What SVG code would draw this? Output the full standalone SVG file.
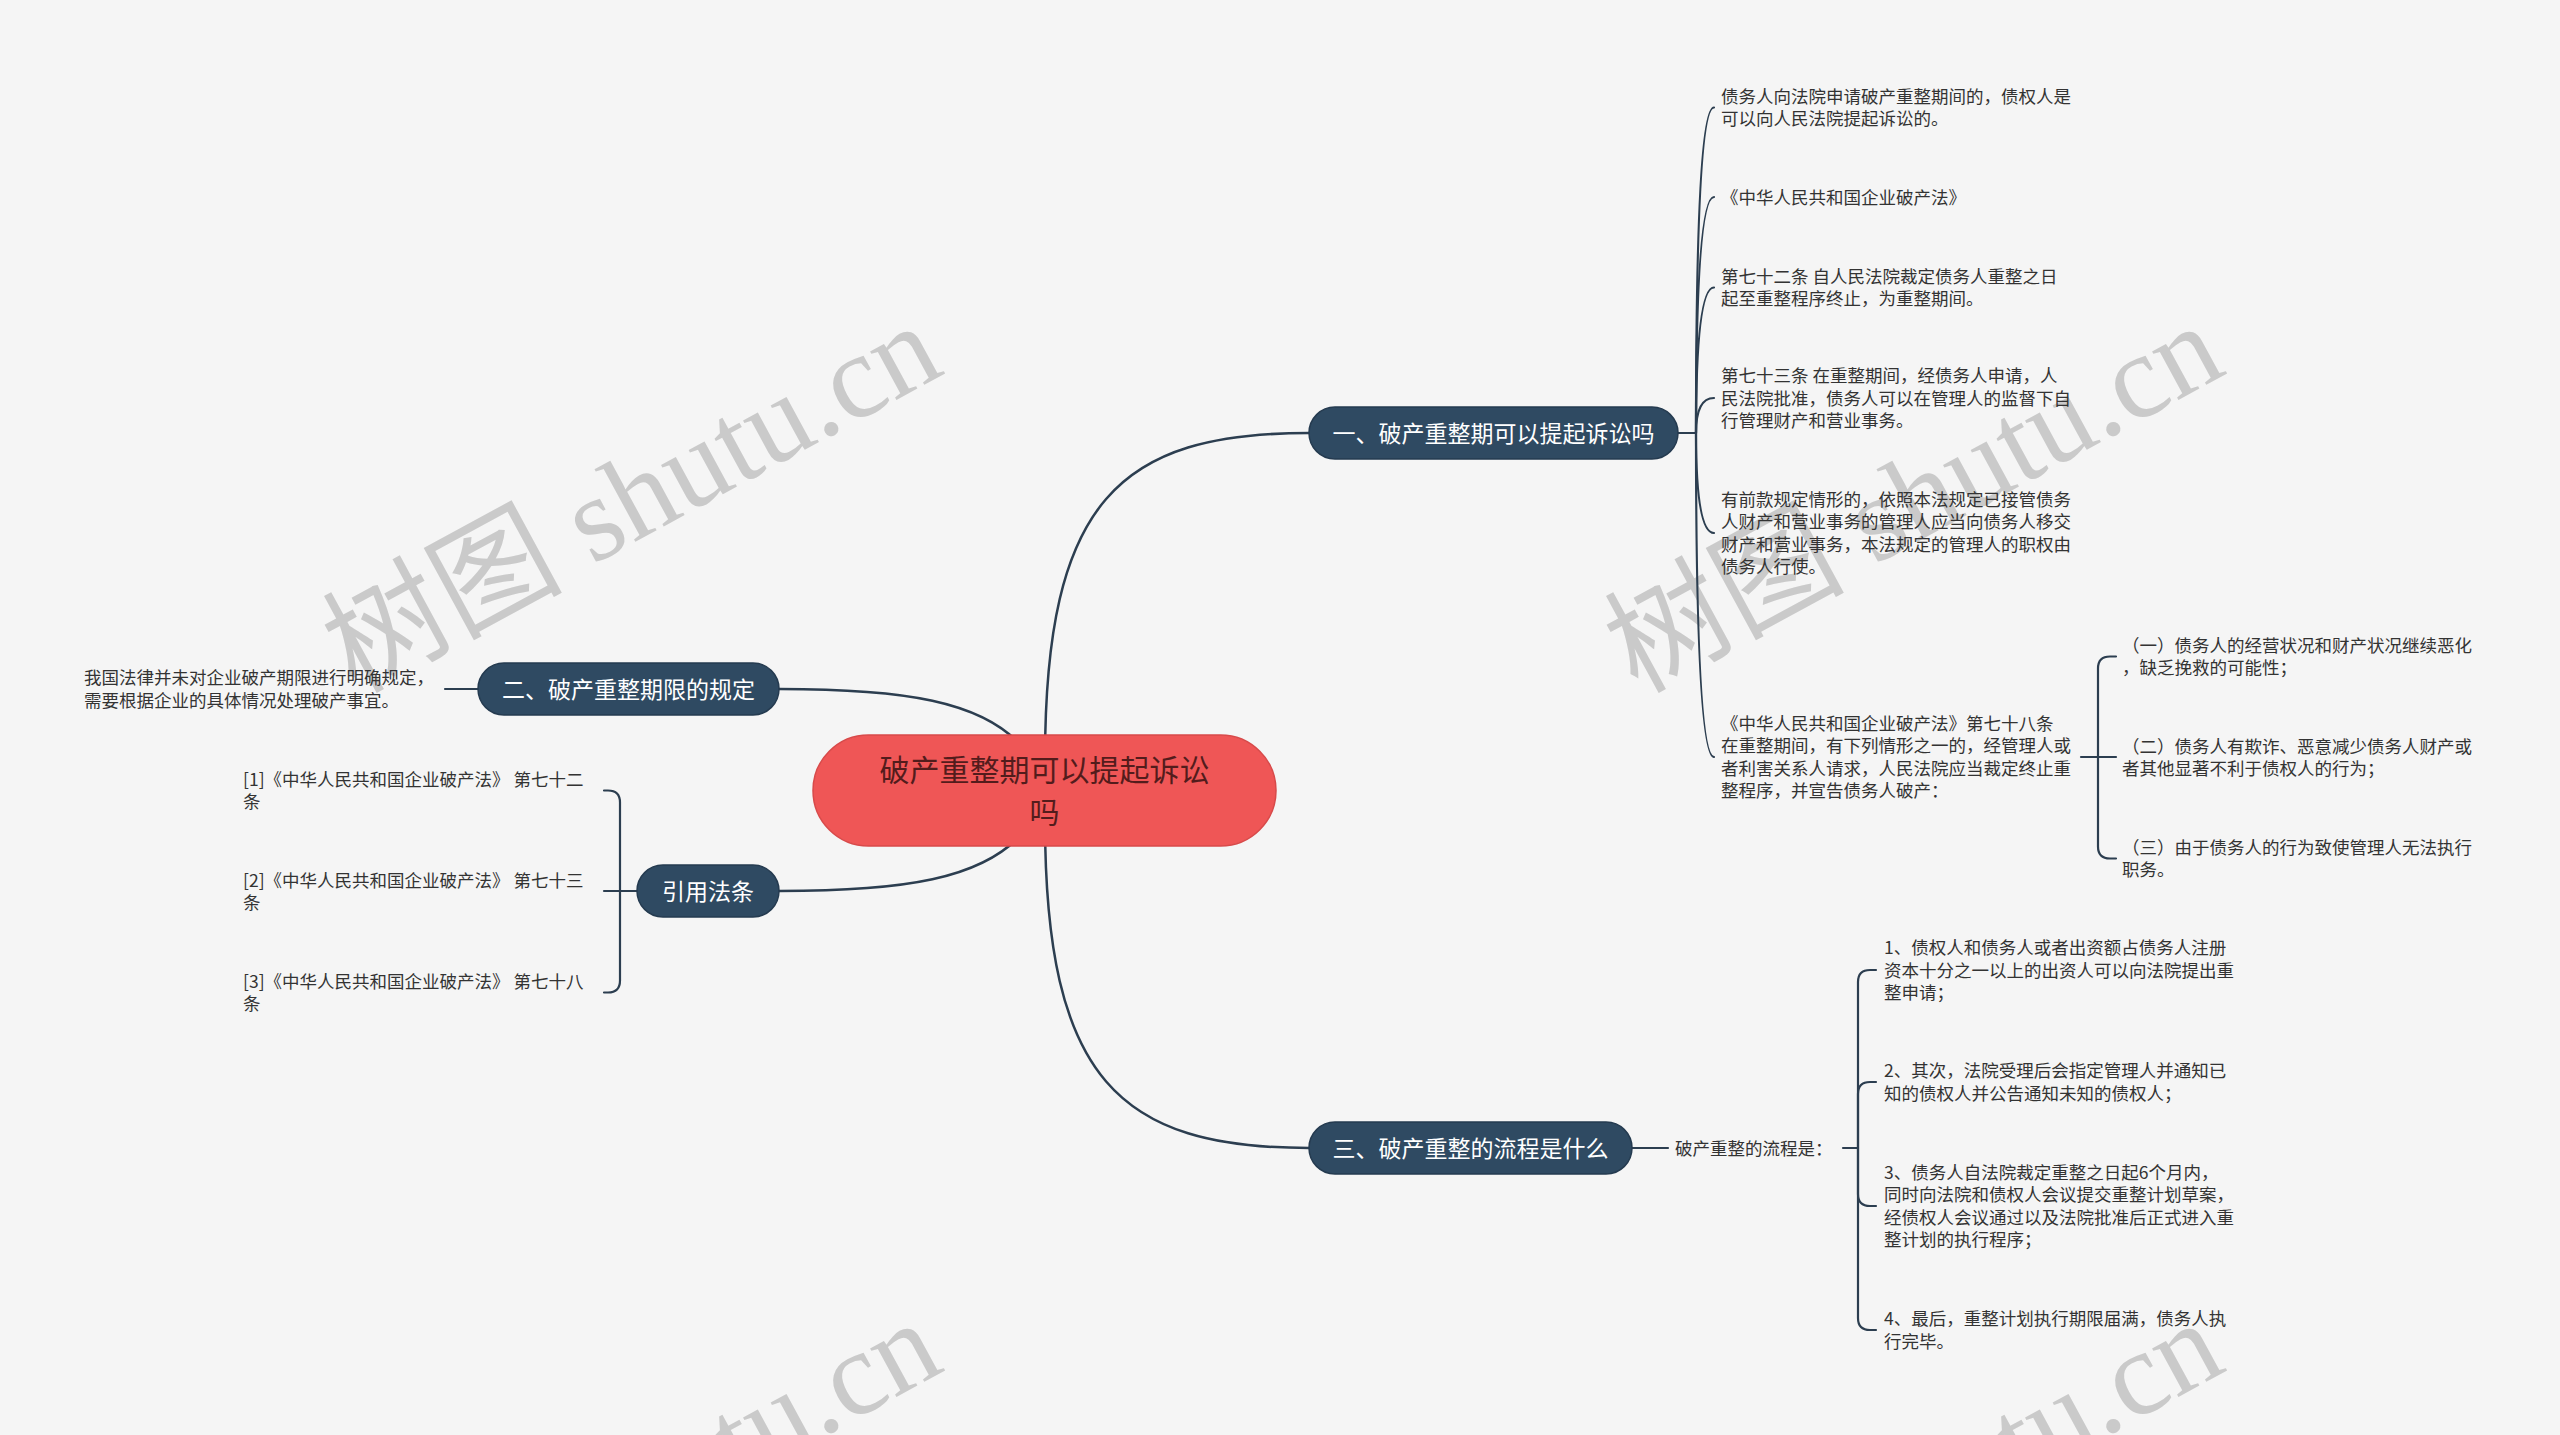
<svg xmlns="http://www.w3.org/2000/svg" width="2560" height="1435" viewBox="0 0 2560 1435">
<style>
.wm{font-family:"Liberation Serif","Noto Sans CJK SC",serif;font-size:120px;fill:#cacaca}
.wmc{font-family:"Noto Sans CJK SC",sans-serif}
.ln{fill:none;stroke:#2c3e50;stroke-width:2.5;stroke-linecap:round}
.br{fill:none;stroke:#2c3e50;stroke-width:2.2;stroke-linecap:round}
.box{fill:#2f4a62;stroke:#253b50;stroke-width:1.5}
.bt{font-family:"Noto Sans CJK SC",sans-serif;font-size:23px;fill:#ffffff;text-anchor:middle}
.ct{font-family:"Noto Sans CJK SC",sans-serif;font-size:17.5px;fill:#333333}
.main{fill:#ef5656;stroke:#d84a4a;stroke-width:1.5}
.mt{font-family:"Noto Sans CJK SC",sans-serif;font-size:30px;fill:#531c1c;text-anchor:middle}
</style>
<rect x="0" y="0" width="2560" height="1435" fill="#f5f5f5"/>
<g id="watermarks">
<text class="wm" transform="translate(355 694) rotate(-28.5)"><tspan class="wmc">树图</tspan> shutu.cn</text>
<text class="wm" transform="translate(1637 694) rotate(-28.5)"><tspan class="wmc">树图</tspan> shutu.cn</text>
<text class="wm" transform="translate(355 1691) rotate(-28.5)"><tspan class="wmc">树图</tspan> shutu.cn</text>
<text class="wm" transform="translate(1637 1691) rotate(-28.5)"><tspan class="wmc">树图</tspan> shutu.cn</text>
</g>
<g id="connectors">
<path class="ln" d="M1045 760 C1045 500 1120 433 1309 433"/>
<path class="ln" d="M1045 820 C1045 1080 1120 1148 1309 1148"/>
<path class="ln" d="M779 689 C900 689 985 700 1025 750"/>
<path class="ln" d="M779 891 C900 891 985 880 1025 830"/>
<path class="br" d="M1678 433 H1696"/>
<path class="br" d="M1696 433 Q1696 107.5 1714 107.5"/>
<path class="br" d="M1696 433 Q1696 197 1714 197"/>
<path class="br" d="M1696 433 Q1696 287.5 1714 287.5"/>
<path class="br" d="M1696 433 Q1696 398 1714 398"/>
<path class="br" d="M1696 433 Q1696 533 1714 533"/>
<path class="br" d="M1696 433 Q1696 757 1714 757"/>
<path class="br" d="M2081 757 H2098"/>
<path class="br" d="M2098 757 V668.5 Q2098 656.5 2110 656.5 H2116"/>
<path class="br" d="M2098 757 H2116"/>
<path class="br" d="M2098 757 V846.5 Q2098 858.5 2110 858.5 H2116"/>
<path class="br" d="M445 689 H478"/>
<path class="br" d="M637 891 H620"/>
<path class="br" d="M620 891 V802.5 Q620 790.5 608 790.5 H604"/>
<path class="br" d="M620 891 H604"/>
<path class="br" d="M620 891 V980.5 Q620 992.5 608 992.5 H604"/>
<path class="br" d="M1632 1148 H1668"/>
<path class="br" d="M1843 1148 H1858"/>
<path class="br" d="M1858 1148 V982 Q1858 970 1870 970 H1876"/>
<path class="br" d="M1858 1148 V1094 Q1858 1082 1870 1082 H1876"/>
<path class="br" d="M1858 1148 V1194 Q1858 1206 1870 1206 H1876"/>
<path class="br" d="M1858 1148 V1318 Q1858 1330 1870 1330 H1876"/>
</g>
<g id="root">
<rect class="main" x="813" y="735" width="463" height="111" rx="55.5"/>
<text class="mt" x="1044.5" y="781.4">破产重整期可以提起诉讼<tspan x="1044.5" dy="42">吗</tspan></text>
</g>
<g id="b1">
<rect class="box" x="1309" y="407" width="369" height="52" rx="26"/>
<text class="bt" x="1493.5" y="441.7">一、破产重整期可以提起诉讼吗</text>
</g>
<g id="b2">
<rect class="box" x="478" y="663" width="301" height="52" rx="26"/>
<text class="bt" x="628.5" y="697.7">二、破产重整期限的规定</text>
</g>
<g id="b4">
<rect class="box" x="637" y="865" width="142" height="52" rx="26"/>
<text class="bt" x="708" y="899.7">引用法条</text>
</g>
<g id="b3">
<rect class="box" x="1309" y="1122" width="323" height="52" rx="26"/>
<text class="bt" x="1470.5" y="1156.7">三、破产重整的流程是什么</text>
</g>
<g id="b1c1"><text class="ct" x="1721" y="102.9">债务人向法院申请破产重整期间的，债权人是<tspan x="1721" dy="22.5">可以向人民法院提起诉讼的。</tspan></text></g>
<g id="b1c2"><text class="ct" x="1721" y="203.6">《中华人民共和国企业破产法》</text></g>
<g id="b1c3"><text class="ct" x="1721" y="282.9">第七十二条 自人民法院裁定债务人重整之日<tspan x="1721" dy="22.5">起至重整程序终止，为重整期间。</tspan></text></g>
<g id="b1c4"><text class="ct" x="1721" y="382.1">第七十三条 在重整期间，经债务人申请，人<tspan x="1721" dy="22.5">民法院批准，债务人可以在管理人的监督下自</tspan><tspan x="1721" dy="22.5">行管理财产和营业事务。</tspan></text></g>
<g id="b1c5"><text class="ct" x="1721" y="505.9">有前款规定情形的，依照本法规定已接管债务<tspan x="1721" dy="22.5">人财产和营业事务的管理人应当向债务人移交</tspan><tspan x="1721" dy="22.5">财产和营业事务，本法规定的管理人的职权由</tspan><tspan x="1721" dy="22.5">债务人行使。</tspan></text></g>
<g id="b1c6"><text class="ct" x="1721" y="729.9">《中华人民共和国企业破产法》第七十八条<tspan x="1721" dy="22.5">在重整期间，有下列情形之一的，经管理人或</tspan><tspan x="1721" dy="22.5">者利害关系人请求，人民法院应当裁定终止重</tspan><tspan x="1721" dy="22.5">整程序，并宣告债务人破产：</tspan></text></g>
<g id="b1c6a"><text class="ct" x="2122" y="651.9">（一）债务人的经营状况和财产状况继续恶化<tspan x="2122" dy="22.5">，缺乏挽救的可能性；</tspan></text></g>
<g id="b1c6b"><text class="ct" x="2122" y="752.9">（二）债务人有欺诈、恶意减少债务人财产或<tspan x="2122" dy="22.5">者其他显著不利于债权人的行为；</tspan></text></g>
<g id="b1c6c"><text class="ct" x="2122" y="853.9">（三）由于债务人的行为致使管理人无法执行<tspan x="2122" dy="22.5">职务。</tspan></text></g>
<g id="b2c1"><text class="ct" x="84" y="684.4">我国法律并未对企业破产期限进行明确规定，<tspan x="84" dy="22.5">需要根据企业的具体情况处理破产事宜。</tspan></text></g>
<g id="b4c1"><text class="ct" x="243" y="785.9">[1]《中华人民共和国企业破产法》 第七十二<tspan x="243" dy="22.5">条</tspan></text></g>
<g id="b4c2"><text class="ct" x="243" y="886.9">[2]《中华人民共和国企业破产法》 第七十三<tspan x="243" dy="22.5">条</tspan></text></g>
<g id="b4c3"><text class="ct" x="243" y="987.9">[3]《中华人民共和国企业破产法》 第七十八<tspan x="243" dy="22.5">条</tspan></text></g>
<g id="b3c0"><text class="ct" x="1675" y="1154.6">破产重整的流程是：</text></g>
<g id="b3c1"><text class="ct" x="1884" y="954.1">1、债权人和债务人或者出资额占债务人注册<tspan x="1884" dy="22.5">资本十分之一以上的出资人可以向法院提出重</tspan><tspan x="1884" dy="22.5">整申请；</tspan></text></g>
<g id="b3c2"><text class="ct" x="1884" y="1077.4">2、其次，法院受理后会指定管理人并通知已<tspan x="1884" dy="22.5">知的债权人并公告通知未知的债权人；</tspan></text></g>
<g id="b3c3"><text class="ct" x="1884" y="1178.9">3、债务人自法院裁定重整之日起6个月内，<tspan x="1884" dy="22.5">同时向法院和债权人会议提交重整计划草案，</tspan><tspan x="1884" dy="22.5">经债权人会议通过以及法院批准后正式进入重</tspan><tspan x="1884" dy="22.5">整计划的执行程序；</tspan></text></g>
<g id="b3c4"><text class="ct" x="1884" y="1325.4">4、最后，重整计划执行期限届满，债务人执<tspan x="1884" dy="22.5">行完毕。</tspan></text></g>
</svg>
